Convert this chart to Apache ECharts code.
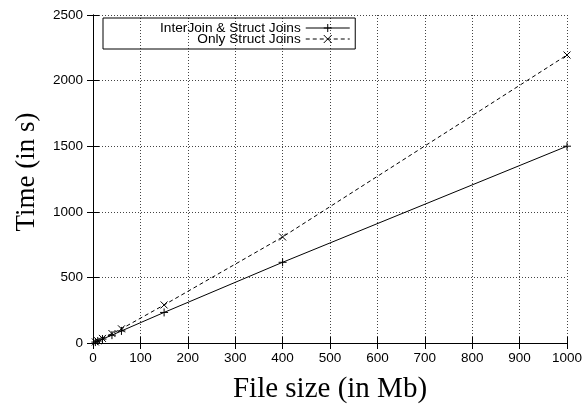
<!DOCTYPE html>
<html>
<head>
<meta charset="utf-8">
<script src="https://cdn.jsdelivr.net/npm/echarts@6/dist/echarts.min.js"></script>
<style>
html, body { margin: 0; padding: 0; background: #fff; }
#chart { width: 585px; height: 405px; }
</style>
</head>
<body>
<div id="chart"></div>
<script>
// file sizes (Mb) and run times (s)
var sizes = [5, 10, 20, 40, 60, 150, 400, 1000];
var interJoin = [7, 15, 30, 60, 92, 233, 615, 1500];
var structOnly = [8, 17, 35, 72, 108, 290, 808, 2195];
var seriesNames = ['InterJoin & Struct Joins', 'Only Struct Joins'];

var plusPath = 'path://M0,5L10,5M5,0L5,10';
var crossPath = 'path://M0,0L10,10M10,0L0,10';

function pairs(xs, ys) {
    var out = [];
    for (var i = 0; i < xs.length; i++) {
        out.push([xs[i], ys[i]]);
    }
    return out;
}

function plain(v) {
    return String(v);
}

var tickFont = 'Liberation Sans';
var titleFont = 'Liberation Serif';
var gridLine = { show: true, lineStyle: { color: '#444', type: [1, 2], width: 1 } };

var chart = echarts.init(document.getElementById('chart'));
chart.setOption({
    animation: false,
    backgroundColor: '#fff',
    grid: { left: 93, right: 18, top: 15, bottom: 62, outerBoundsMode: 'none', containLabel: false },
    legend: {
        left: 103,
        top: 18,
        orient: 'vertical',
        align: 'right',
        itemWidth: 44,
        itemHeight: 10,
        itemGap: -3,
        padding: [3, 5, 3, 57],
        borderColor: '#000',
        borderWidth: 1,
        borderRadius: 0,
        lineStyle: { width: 1 },
        itemStyle: { borderWidth: 1 },
        textStyle: { fontFamily: tickFont, fontSize: 13.7, lineHeight: 10, color: '#000' },
        data: seriesNames
    },
    xAxis: [
        {
            type: 'value', min: 0, max: 1000, interval: 100,
            name: 'File size (in Mb)', nameLocation: 'middle', nameGap: 32,
            nameTextStyle: { fontFamily: titleFont, fontSize: 29, color: '#000' },
            axisLine: { show: true, lineStyle: { color: '#000', width: 1 } },
            axisTick: { show: true, inside: true, length: 6, lineStyle: { color: '#000' } },
            axisLabel: { fontFamily: tickFont, fontSize: 13.5, color: '#000', margin: 8, formatter: plain },
            splitLine: gridLine
        },
        {
            type: 'value', position: 'top', min: 0, max: 1000, interval: 100,
            axisLine: { show: true, lineStyle: { color: '#000', width: 1 } },
            axisTick: { show: true, inside: true, length: 6, lineStyle: { color: '#000' } },
            axisLabel: { show: false },
            splitLine: { show: false }
        }
    ],
    yAxis: [
        {
            type: 'value', min: 0, max: 2500, interval: 500,
            name: 'Time (in s)', nameLocation: 'middle', nameGap: 53,
            nameTextStyle: { fontFamily: titleFont, fontSize: 27, color: '#000', padding: [0, 0, 0, 14] },
            axisLine: { show: true, lineStyle: { color: '#000', width: 1 } },
            axisTick: { show: true, inside: true, length: 6, lineStyle: { color: '#000' } },
            axisLabel: { fontFamily: tickFont, fontSize: 13.5, color: '#000', margin: 10, formatter: plain },
            splitLine: gridLine
        },
        {
            type: 'value', position: 'right', min: 0, max: 2500, interval: 500,
            axisLine: { show: true, lineStyle: { color: '#000', width: 1 } },
            axisTick: { show: true, inside: true, length: 6, lineStyle: { color: '#000' } },
            axisLabel: { show: false },
            splitLine: { show: false }
        }
    ],
    series: [
        {
            name: seriesNames[0],
            type: 'line',
            data: pairs(sizes, interJoin),
            symbol: plusPath,
            symbolSize: 8,
            showAllSymbol: true,
            color: '#000',
            lineStyle: { color: '#000', width: 1, type: 'solid' },
            itemStyle: { color: '#000', borderColor: '#000', borderWidth: 1 }
        },
        {
            name: seriesNames[1],
            type: 'line',
            data: pairs(sizes, structOnly),
            symbol: crossPath,
            symbolSize: 7,
            showAllSymbol: true,
            color: '#000',
            lineStyle: { color: '#000', width: 1, type: [4, 3] },
            itemStyle: { color: '#000', borderColor: '#000', borderWidth: 1 }
        }
    ]
});
</script>
</body>
</html>
